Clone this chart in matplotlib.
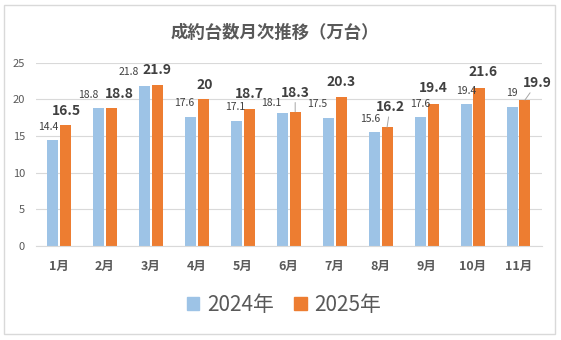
import numpy as np
import matplotlib.pyplot as plt
from matplotlib.patches import Patch, Rectangle

plt.rcParams['font.family'] = ['Noto Sans CJK JP', 'DejaVu Sans']

# data
months = ['1月', '2月', '3月', '4月', '5月', '6月', '7月', '8月', '9月', '10月', '11月']
sales_2024 = [14.4, 18.8, 21.8, 17.6, 17.1, 18.1, 17.5, 15.6, 17.6, 19.4, 19]
sales_2025 = [16.5, 18.8, 21.9, 20, 18.7, 18.3, 20.3, 16.2, 19.4, 21.6, 19.9]
series_names = ['2024年', '2025年']

# label placement (pixels: dx right, dy up from bar top)
off_2024 = [(-4, 13), (-10, 13), (-16, 14), (-6, 14), (-1, 14), (-11, 10),
            (-11, 14), (-4, 13), (0, 13), (0, 13), (0, 14)]
off_2025 = [(1, 14), (8, 14), (0, 15), (1, 14), (0, 15), (0, 19),
            (0, 15), (3, 20), (0, 16), (4, 16), (12, 17)]
leader_2025 = [5, 7, 10]

c_blue = '#9DC3E6'
c_orange = '#ED7D31'
c_text = '#404040'
c_axis = '#595959'
c_grid = '#D9D9D9'

fig = plt.figure(figsize=(5.61, 3.40), dpi=100)
ax = fig.add_axes([36 / 561, 1 - 246 / 340, 505.5 / 561, (246 - 62.6) / 340])

x = np.arange(len(months))
w = 0.24
ax.bar(x - 0.14, sales_2024, w, color=c_blue, zorder=2)
ax.bar(x + 0.14, sales_2025, w, color=c_orange, zorder=2)

px = 72 / 100  # pixels -> points

for i, v in enumerate(sales_2024):
    dx, dy = off_2024[i]
    ax.annotate(f'{v:g}', (x[i] - 0.14, v), xytext=(dx * px, dy * px),
                textcoords='offset points', ha='center', va='center',
                fontsize=7.5, color=c_text)

for i, v in enumerate(sales_2025):
    dx, dy = off_2025[i]
    arrow = None
    if i in leader_2025:
        arrow = dict(arrowstyle='-', color='#A6A6A6', lw=0.7, shrinkA=0, shrinkB=0)
    ax.annotate(f'{v:g}', (x[i] + 0.14, v), xytext=(dx * px, dy * px),
                textcoords='offset points', ha='center', va='center',
                fontsize=10, fontweight='bold', color=c_text, arrowprops=arrow)

ax.set_xlim(-0.5, len(months) - 0.5)
ax.set_ylim(0, 25)
ax.set_yticks(np.arange(0, 26, 5))
ax.set_xticks(x)
ax.set_xticklabels(months, fontsize=9, fontweight='bold', color=c_axis)
ax.tick_params(axis='y', labelsize=8, colors=c_axis, length=0, pad=8)
ax.tick_params(axis='x', length=0, pad=10)
ax.grid(axis='y', color=c_grid, lw=0.8, zorder=0)
for s in ['top', 'right', 'left']:
    ax.spines[s].set_visible(False)
ax.spines['bottom'].set_color(c_grid)
ax.spines['bottom'].set_linewidth(0.8)

fig.text(0.49, 1 - 33 / 340, '成約台数月次推移（万台）', ha='center', va='center',
         fontsize=12.5, fontweight='bold', color=c_axis)

handles = [Patch(color=c_blue), Patch(color=c_orange)]
fig.legend(handles, series_names, loc='center', bbox_to_anchor=(284 / 561, 1 - 305 / 340),
           ncol=2, frameon=False, fontsize=15, handlelength=0.6, handleheight=0.6,
           handletextpad=0.35, columnspacing=1.0, labelcolor=c_axis)

fig.add_artist(Rectangle((4 / 561, 6 / 340), 551 / 561, 329 / 340, transform=fig.transFigure,
                         fill=False, edgecolor=c_grid, lw=1))

fig.savefig('out.png', dpi=100)
